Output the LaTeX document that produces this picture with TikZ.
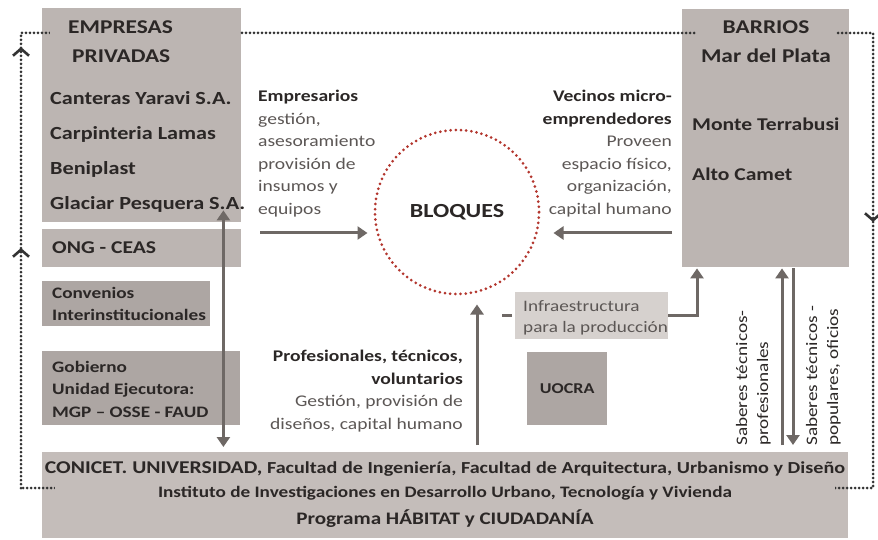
\documentclass[tikz,border=0pt]{standalone}
\usepackage{fontspec}
\setmainfont{Carlito}[FakeStretch=1.2]
\usepackage{tikz}
\usetikzlibrary{arrows.meta, positioning, calc, decorations.markings}
\definecolor{boxgray}{HTML}{BCB5B2}
\definecolor{boxdark}{HTML}{ADA6A3}
\definecolor{boxlight}{HTML}{D6D1CE}
\definecolor{boxbottom}{HTML}{C4BDBA}
\definecolor{arrowgray}{HTML}{6E6865}
\definecolor{inkdark}{HTML}{2B2726}
\definecolor{inkgray}{HTML}{5C5755}
\definecolor{bloqred}{HTML}{B3362E}
\definecolor{loopink}{HTML}{333333}

\begin{document}
\begin{tikzpicture}[
    x=1pt, y=-1pt,
    every node/.style={text=inkdark, inner sep=0pt},
    box/.style={
        rectangle,
        fill=boxgray,
        anchor=north west
    },
    titletext/.style={
        font=\fontsize{19.5}{29}\selectfont\bfseries,
        align=left,
        fill=boxgray,
        anchor=west
    },
    itemtext/.style={
        font=\fontsize{18.5}{35}\selectfont\bfseries,
        align=left,
        anchor=north west
    },
    smalltext/.style={
        font=\fontsize{16}{22.5}\selectfont\bfseries,
        align=left,
        anchor=north west
    },
    desctext/.style={
        font=\fontsize{16.3}{22.5}\selectfont,
        text=inkgray
    },
    sidetext/.style={
        font=\fontsize{16}{21}\selectfont,
        rotate=90,
        align=left,
        anchor=south west
    },
    grayarrow/.style={
        -{Triangle[length=10pt, width=13pt]},
        line width=3pt,
        draw=arrowgray
    },
    loopline/.style={
        draw=loopink,
        line width=3pt,
        line cap=round,
        dash pattern=on 0pt off 4pt
    },
    chevrons/.style={
        postaction={decorate},
        decoration={markings,
            mark=at position 240pt with {\arrow[solid, line width=2.6pt]{Straight Barb[length=7pt, width=16pt]}},
            mark=at position 441pt with {\arrow[solid, line width=2.6pt]{Straight Barb[length=7pt, width=16pt]}},
            mark=at position 1496pt with {\arrow[solid, line width=2.6pt]{Straight Barb[length=7pt, width=16pt]}}}
    }
]
\useasboundingbox[fill=white] (0,0) rectangle (878,540);

% Boxes
\node[box, minimum width=199pt, minimum height=214pt] (empresas) at (42,8) {};
\node[box, minimum width=199pt, minimum height=38pt] (ong) at (42,229) {};
\node[box, fill=boxdark, minimum width=168pt, minimum height=45pt] (convenios) at (42,281) {};
\node[box, fill=boxdark, minimum width=198pt, minimum height=74pt] (gobierno) at (42,351) {};
\node[box, minimum width=167pt, minimum height=258pt] (barrios) at (682,9) {};
\node[box, fill=boxlight, minimum width=153pt, minimum height=47pt] (infra) at (515,292) {};
\node[box, fill=boxdark, minimum width=80pt, minimum height=73pt] (uocra) at (527,352) {};
\node[box, fill=boxbottom, minimum width=806pt, minimum height=86pt] (conicet) at (42,452) {};

% Feedback loop around the whole scheme
\coordinate (lpA) at (21,488);
\coordinate (lpB) at (21,33);
\coordinate (lpC) at (873,33);
\coordinate (lpD) at (873,488);
\draw[loopline, chevrons] (lpA) -- (lpB) -- (lpC) -- (lpD) -- cycle;

% Box texts
\node[titletext, text width=190pt] (emptitle) at (50,42) {\hspace*{18pt}EMPRESAS\\\hspace*{22pt}PRIVADAS};
\node[itemtext] (empitems) at (50,91) {Canteras Yaravi S.A.\\Carpinteria Lamas\\Beniplast\\Glaciar Pesquera S.A.};
\node[itemtext, font=\fontsize{18}{22}\selectfont\bfseries, anchor=west] (ongtext) at (52,248) {ONG - CEAS};
\node[smalltext] (convtext) at (52,287) {Convenios\\Interinstitucionales};
\node[smalltext] (gobtext) at (52,361) {Gobierno\\Unidad Ejecutora:\\MGP -- OSSE - FAUD};
\node[titletext, align=center, anchor=center, minimum width=140pt] (barrtitle) at (766,42) {BARRIOS\\Mar del Plata};
\node[itemtext, font=\fontsize{18}{50}\selectfont\bfseries] (barritems) at (692,118) {Monte Terrabusi\\Alto Camet};
\node[font=\fontsize{15}{18}\selectfont\bfseries] (uocratext) at (uocra.center) {UOCRA};
\node[desctext, align=left, anchor=north west, font=\fontsize{16}{21}\selectfont] (infratext) at (523,300) {Infraestructura\\para la producción};

% Center
\node[circle, draw=bloqred, line width=3pt, line cap=round, dash pattern=on 0pt off 5.2pt,
      minimum size=164pt, font=\fontsize{20}{24}\selectfont\bfseries] (bloques) at (457,212) {BLOQUES};

% Contributions
\node[desctext, align=left, anchor=north west] (empdesc) at (258,90)
    {{\bfseries\color{inkdark}Empresarios}\\gestión,\\asesoramiento\\provisión de\\insumos y\\equipos};
\node[desctext, align=right, anchor=north east] (vecdesc) at (672,90)
    {{\bfseries\color{inkdark}Vecinos micro-}\\{\bfseries\color{inkdark}emprendedores}\\Proveen\\espacio físico,\\organización,\\capital humano};
\node[desctext, align=right, anchor=north east] (profdesc) at (463,350)
    {{\bfseries\color{inkdark}Profesionales, técnicos,}\\{\bfseries\color{inkdark}voluntarios}\\Gestión, provisión de\\diseños, capital humano};
\node[sidetext] (sabprof) at (771,446) {Saberes técnicos-\\profesionales};
\node[sidetext] (sabpop) at (841,446) {Saberes técnicos -\\populares, oficios};

% Bottom institution
\node[font=\fontsize{16.8}{18}\selectfont\bfseries] (conline1) at (445,469)
    {{\fontsize{18}{22}\selectfont CONICET. UNIVERSIDAD,} Facultad de Ingeniería, Facultad de Arquitectura, Urbanismo y Diseño};
\node[font=\fontsize{16}{18}\selectfont\bfseries, fill=boxbottom, minimum width=780pt, inner ysep=2pt] (conline2) at (445,493)
    {Instituto de Investigaciones en Desarrollo Urbano, Tecnología y Vivienda};
\node[font=\fontsize{17.6}{20}\selectfont\bfseries] (conline3) at (445,519) {Programa HÁBITAT y CIUDADANÍA};

% Arrows
\coordinate (e1) at (260,233);
\coordinate (v1) at (672,233);
\draw[grayarrow, shorten >=6pt] (e1) -- (e1 -| bloques.west);
\draw[grayarrow, shorten >=13pt] (v1) -- (v1 -| bloques.east);
\draw[grayarrow, shorten <=7pt, shorten >=9pt] ([xshift=20pt]bloques.south |- conicet.north) -- ([xshift=20pt]bloques.south);
\draw[grayarrow, shorten >=1pt] (infra.east) -| ([xshift=15pt]barrios.south west);
\draw[line width=3pt, draw=arrowgray] ([xshift=-3pt]infra.west) -- ([xshift=-13pt]infra.west);
\draw[grayarrow, {Triangle[length=10pt, width=13pt]}-{Triangle[length=10pt, width=13pt]}, shorten >=5pt]
    ([xshift=-18pt, yshift=12pt]empresas.south east) -- ([xshift=-18pt]empresas.south east |- conicet.north);
\draw[grayarrow, shorten <=7pt, shorten >=1pt] ([xshift=100pt]barrios.south west |- conicet.north) -- ([xshift=100pt]barrios.south west);
\draw[grayarrow, shorten <=1pt, shorten >=7pt] ([xshift=111pt]barrios.south west) -- ([xshift=111pt]barrios.south west |- conicet.north);

\end{tikzpicture}
\end{document}
